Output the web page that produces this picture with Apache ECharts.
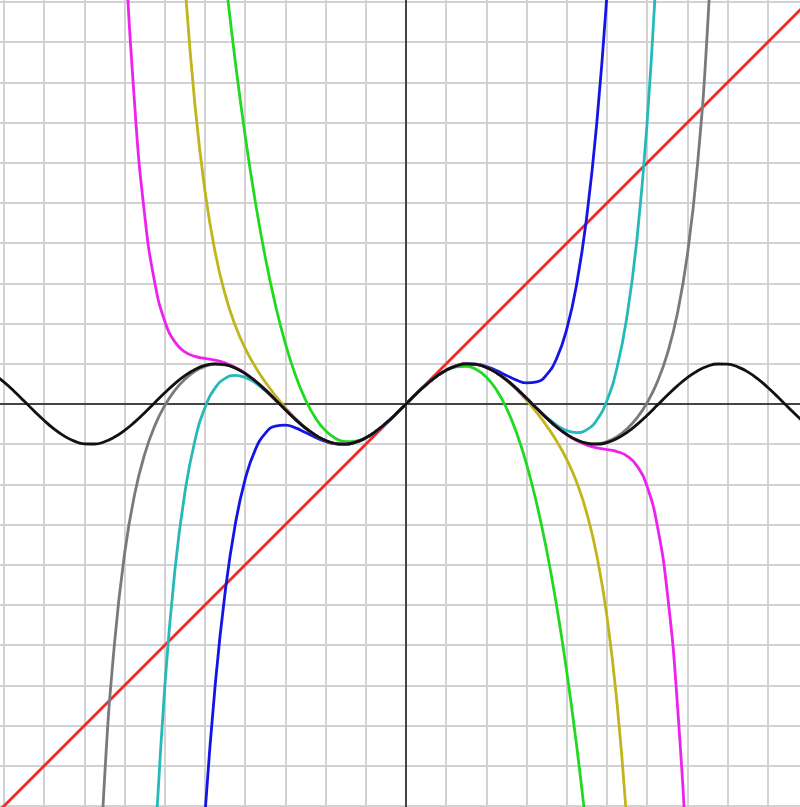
<!DOCTYPE html>
<html>
<head>
<meta charset="utf-8">
<style>
  html, body { margin: 0; padding: 0; background: #ffffff; }
  #chart { width: 800px; height: 807px; }
</style>
<script src="https://cdn.jsdelivr.net/npm/echarts@6/dist/echarts.min.js"></script>
</head>
<body>
<div id="chart"></div>
<script>
// Taylor polynomials of sin(x) around 0, sampled as [x, y] points.

const degree1 = [[-11, -11], [11, 11]];

const degree3 = [
  [-4.75, 13.112], [-4.5, 10.6875], [-4.25, 8.5443], [-4, 6.6667], [-3.75, 5.0391], [-3.5, 3.6458],
  [-3.25, 2.4714], [-3, 1.5], [-2.75, 0.7161], [-2.5, 0.1042], [-2.25, -0.3516], [-2, -0.6667],
  [-1.75, -0.8568], [-1.5, -0.9375], [-1.25, -0.9245], [-1, -0.8333], [-0.75, -0.6797],
  [-0.5, -0.4792], [-0.25, -0.2474], [0, 0],
  [0.25, 0.2474], [0.5, 0.4792], [0.75, 0.6797], [1, 0.8333], [1.25, 0.9245], [1.5, 0.9375],
  [1.75, 0.8568], [2, 0.6667], [2.25, 0.3516], [2.5, -0.1042], [2.75, -0.7161], [3, -1.5],
  [3.25, -2.4714], [3.5, -3.6458], [3.75, -5.0391], [4, -6.6667], [4.25, -8.5443], [4.5, -10.6875],
  [4.75, -13.112]
];

const degree5 = [
  [-5.25, -14.3693], [-5, -10.2083], [-4.75, -7.0386], [-4.5, -4.6898], [-4.25, -3.0106], [-4, -1.8667],
  [-3.75, -1.1407], [-3.5, -0.7310], [-3.25, -0.5502], [-3, -0.525], [-2.75, -0.5945], [-2.5, -0.7096],
  [-2.25, -0.8321], [-2, -0.9333], [-1.75, -0.9935], [-1.5, -1.0008], [-1.25, -0.9499], [-1, -0.8417],
  [-0.75, -0.6817], [-0.5, -0.4794], [-0.25, -0.2474], [0, 0],
  [0.25, 0.2474], [0.5, 0.4794], [0.75, 0.6817], [1, 0.8417], [1.25, 0.9499], [1.5, 1.0008],
  [1.75, 0.9935], [2, 0.9333], [2.25, 0.8321], [2.5, 0.7096], [2.75, 0.5945], [3, 0.525],
  [3.25, 0.5502], [3.5, 0.7310], [3.75, 1.1407], [4, 1.8667], [4.25, 3.0106], [4.5, 4.6898],
  [4.75, 7.0386], [5, 10.2083], [5.25, 14.3693]
];

const degree7 = [
  [-5.75, 14.7887], [-5.5, 10.4959], [-5.25, 7.4422], [-5, 5.2927], [-4.75, 3.7864], [-4.5, 2.7242],
  [-4.25, 1.9587], [-4, 1.3841], [-3.75, 0.9284], [-3.5, 0.5456], [-3.25, 0.2097], [-3, -0.0911],
  [-2.75, -0.3585], [-2.5, -0.5885], [-2.25, -0.7742], [-2, -0.9079], [-1.75, -0.9836], [-1.5, -0.9974],
  [-1.25, -0.9490], [-1, -0.8415], [-0.75, -0.6816], [-0.5, -0.4794], [-0.25, -0.2474], [0, 0],
  [0.25, 0.2474], [0.5, 0.4794], [0.75, 0.6816], [1, 0.8415], [1.25, 0.9490], [1.5, 0.9974],
  [1.75, 0.9836], [2, 0.9079], [2.25, 0.7742], [2.5, 0.5885], [2.75, 0.3585], [3, 0.0911],
  [3.25, -0.2097], [3.5, -0.5456], [3.75, -0.9284], [4, -1.3841], [4.25, -1.9587], [4.5, -2.7242],
  [4.75, -3.7864], [5, -5.2927], [5.25, -7.4422], [5.5, -10.4959], [5.75, -14.7887]
];

const degree9 = [
  [-6.5, -17.2305], [-6.25, -11.2194], [-6, -7.0286], [-5.75, -4.1455], [-5.5, -2.1953], [-5.25, -0.9075],
  [-5, -0.0896], [-4.75, 0.3942], [-4.5, 0.6390], [-4.25, 0.7121], [-4, 0.6617], [-3.75, 0.5243],
  [-3.5, 0.3284], [-3.25, 0.0982], [-3, -0.1453], [-2.75, -0.3833], [-2.5, -0.5990], [-2.25, -0.7783],
  [-2, -0.9094], [-1.75, -0.9840], [-1.5, -0.9975], [-1.25, -0.9490], [-1, -0.8415], [-0.75, -0.6816],
  [-0.5, -0.4794], [-0.25, -0.2474], [0, 0],
  [0.25, 0.2474], [0.5, 0.4794], [0.75, 0.6816], [1, 0.8415], [1.25, 0.9490], [1.5, 0.9975],
  [1.75, 0.9840], [2, 0.9094], [2.25, 0.7783], [2.5, 0.5990], [2.75, 0.3833], [3, 0.1453],
  [3.25, -0.0982], [3.5, -0.3284], [3.75, -0.5243], [4, -0.6617], [4.25, -0.7121], [4.5, -0.6390],
  [4.75, -0.3942], [5, 0.0896], [5.25, 0.9075], [5.5, 2.1953], [5.75, 4.1455], [6, 7.0286],
  [6.25, 11.2194], [6.5, 17.2305]
];

const degree11 = [
  [-7.25, 18.6117], [-7, 11.8421], [-6.75, 7.4539], [-6.5, 4.6921], [-6.25, 3.0210], [-6, 2.0603],
  [-5.75, 1.5455], [-5.5, 1.2947], [-5.25, 1.1846], [-5, 1.1336], [-4.75, 1.0900], [-4.5, 1.0229],
  [-4.25, 0.9168], [-4, 0.7668], [-3.75, 0.5759], [-3.5, 0.3526], [-3.25, 0.1089], [-3, -0.1409],
  [-2.75, -0.3816], [-2.5, -0.5984], [-2.25, -0.7781], [-2, -0.9093], [-1.75, -0.9840], [-1.5, -0.9975],
  [-1.25, -0.9490], [-1, -0.8415], [-0.75, -0.6816], [-0.5, -0.4794], [-0.25, -0.2474], [0, 0],
  [0.25, 0.2474], [0.5, 0.4794], [0.75, 0.6816], [1, 0.8415], [1.25, 0.9490], [1.5, 0.9975],
  [1.75, 0.9840], [2, 0.9093], [2.25, 0.7781], [2.5, 0.5984], [2.75, 0.3816], [3, 0.1409],
  [3.25, -0.1089], [3.5, -0.3526], [3.75, -0.5759], [4, -0.7668], [4.25, -0.9168], [4.5, -1.0229],
  [4.75, -1.0900], [5, -1.1336], [5.25, -1.1846], [5.5, -1.2947], [5.75, -1.5455], [6, -2.0603],
  [6.25, -3.0210], [6.5, -4.6921], [6.75, -7.4539], [7, -11.8421], [7.25, -18.6117]
];

const degree13 = [
  [-7.75, -14.5830], [-7.5, -9.3504], [-7.25, -5.9418], [-7, -3.7174], [-6.75, -2.2438], [-6.5, -1.2453],
  [-6.25, -0.5448], [-6, -0.0372], [-5.75, 0.3393], [-5.5, 0.6180], [-5.25, 0.8150], [-5, 0.9376],
  [-4.75, 0.9893], [-4.5, 0.9731], [-4.25, 0.8931], [-4, 0.7560], [-3.75, 0.5713], [-3.5, 0.3507],
  [-3.25, 0.1082], [-3, -0.1411], [-2.75, -0.3817], [-2.5, -0.5985], [-2.25, -0.7781], [-2, -0.9093],
  [-1.75, -0.9840], [-1.5, -0.9975], [-1.25, -0.9490], [-1, -0.8415], [-0.75, -0.6816], [-0.5, -0.4794],
  [-0.25, -0.2474], [0, 0],
  [0.25, 0.2474], [0.5, 0.4794], [0.75, 0.6816], [1, 0.8415], [1.25, 0.9490], [1.5, 0.9975],
  [1.75, 0.9840], [2, 0.9093], [2.25, 0.7781], [2.5, 0.5985], [2.75, 0.3817], [3, 0.1411],
  [3.25, -0.1082], [3.5, -0.3507], [3.75, -0.5713], [4, -0.7560], [4.25, -0.8931], [4.5, -0.9731],
  [4.75, -0.9893], [5, -0.9376], [5.25, -0.8150], [5.5, -0.6180], [5.75, -0.3393], [6, 0.0372],
  [6.25, 0.5448], [6.5, 1.2453], [6.75, 2.2438], [7, 3.7174], [7.25, 5.9418], [7.5, 9.3504],
  [7.75, 14.5830]
];

const sine = [
  [-10.5, 0.8797], [-10.25, 0.7346], [-10, 0.5440], [-9.75, 0.3195], [-9.5, 0.0752], [-9.25, -0.1739],
  [-9, -0.4121], [-8.75, -0.6248], [-8.5, -0.7985], [-8.25, -0.9226], [-8, -0.9894], [-7.75, -0.9946],
  [-7.5, -0.9380], [-7.25, -0.8231], [-7, -0.6570], [-6.75, -0.4500], [-6.5, -0.2151], [-6.25, 0.0332],
  [-6, 0.2794], [-5.75, 0.5083], [-5.5, 0.7055], [-5.25, 0.8589], [-5, 0.9589], [-4.75, 0.9993],
  [-4.5, 0.9775], [-4.25, 0.8950], [-4, 0.7568], [-3.75, 0.5716], [-3.5, 0.3508], [-3.25, 0.1082],
  [-3, -0.1411], [-2.75, -0.3817], [-2.5, -0.5985], [-2.25, -0.7781], [-2, -0.9093], [-1.75, -0.9840],
  [-1.5, -0.9975], [-1.25, -0.9490], [-1, -0.8415], [-0.75, -0.6816], [-0.5, -0.4794], [-0.25, -0.2474],
  [0, 0],
  [0.25, 0.2474], [0.5, 0.4794], [0.75, 0.6816], [1, 0.8415], [1.25, 0.9490], [1.5, 0.9975],
  [1.75, 0.9840], [2, 0.9093], [2.25, 0.7781], [2.5, 0.5985], [2.75, 0.3817], [3, 0.1411],
  [3.25, -0.1082], [3.5, -0.3508], [3.75, -0.5716], [4, -0.7568], [4.25, -0.8950], [4.5, -0.9775],
  [4.75, -0.9993], [5, -0.9589], [5.25, -0.8589], [5.5, -0.7055], [5.75, -0.5083], [6, -0.2794],
  [6.25, -0.0332], [6.5, 0.2151], [6.75, 0.4500], [7, 0.6570], [7.25, 0.8231], [7.5, 0.9380],
  [7.75, 0.9946], [8, 0.9894], [8.25, 0.9226], [8.5, 0.7985], [8.75, 0.6248], [9, 0.4121],
  [9.25, 0.1739], [9.5, -0.0752], [9.75, -0.3195], [10, -0.5440], [10.25, -0.7346], [10.5, -0.8797]
];

// Drawing order: polynomials first, the sine curve on top.
const curves = [
  { name: 'T1', data: degree1, color: '#ee2a2a' },
  { name: 'T3', data: degree3, color: '#22d922' },
  { name: 'T5', data: degree5, color: '#1414e6' },
  { name: 'T7', data: degree7, color: '#c2b51c' },
  { name: 'T9', data: degree9, color: '#26b9b9' },
  { name: 'T11', data: degree11, color: '#ee22ee' },
  { name: 'T13', data: degree13, color: '#7a7a7a' },
  { name: 'sin', data: sine, color: '#111111' }
];

const unit = 40.2;      // pixels per unit
const originX = 406;    // pixel position of x = 0
const originY = 404;    // pixel position of y = 0
const span = 11;

const chart = echarts.init(document.getElementById('chart'), null, { renderer: 'canvas' });

const axisCommon = {
  type: 'value',
  min: -span,
  max: span,
  interval: 1,
  axisLabel: { show: false },
  axisTick: { show: false },
  axisLine: { show: true, onZero: true, lineStyle: { color: '#444444', width: 2 } },
  splitLine: { show: true, lineStyle: { color: '#d2d2d2', width: 2 } }
};

chart.setOption({
  animation: false,
  backgroundColor: '#ffffff',
  grid: {
    left: originX - span * unit,
    top: originY - span * unit,
    width: 2 * span * unit,
    height: 2 * span * unit,
    containLabel: false,
    outerBoundsMode: 'none'
  },
  xAxis: Object.assign({}, axisCommon),
  yAxis: Object.assign({}, axisCommon),
  series: curves.map(c => ({
    name: c.name,
    type: 'line',
    data: c.data,
    smooth: true,
    symbol: 'none',
    clip: true,
    lineStyle: { color: c.color, width: 2.8 },
    emphasis: { disabled: true }
  }))
});
</script>
</body>
</html>
